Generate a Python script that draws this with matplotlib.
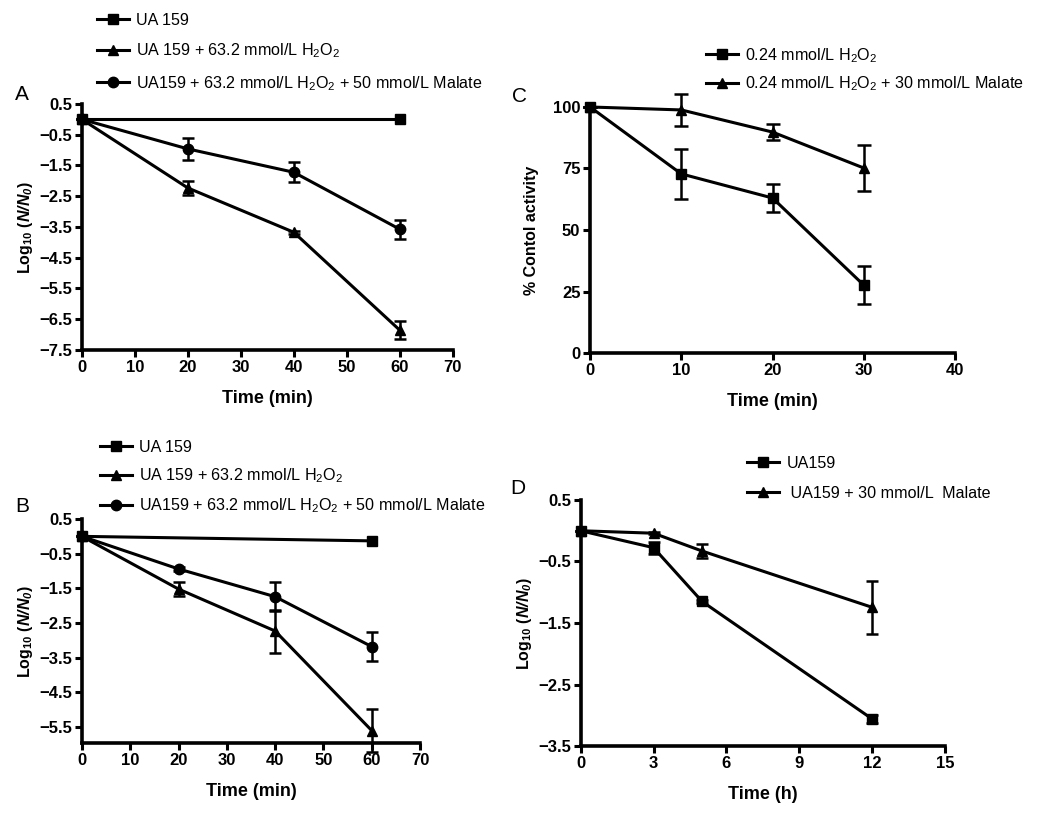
import matplotlib
matplotlib.use("Agg")
import matplotlib.pyplot as plt

plt.rcParams['font.family'] = ['Liberation Sans', 'DejaVu Sans']
plt.rcParams['mathtext.fontset'] = 'custom'
plt.rcParams['mathtext.rm'] = 'Liberation Sans'
plt.rcParams['mathtext.it'] = 'Liberation Sans:italic'
plt.rcParams['mathtext.bf'] = 'Liberation Sans:bold'
plt.rcParams['mathtext.bfit'] = 'Liberation Sans:italic:bold'

# panel A
a_time = [0, 20, 40, 60]
a_ua = [0, None, None, 0.0]
a_h2o2 = [0, -2.23, -3.67, -6.85]
a_h2o2_err = [0, 0.22, 0.05, 0.3]
a_mal = [0, -0.96, -1.72, -3.57]
a_mal_err = [0, 0.35, 0.32, 0.31]

# panel B
b_time = [0, 20, 40, 60]
b_ua = [0, None, None, -0.13]
b_h2o2 = [0, -1.52, -2.73, -5.6]
b_h2o2_err = [0, 0.2, 0.62, 0.63]
b_mal = [0, -0.94, -1.74, -3.18]
b_mal_err = [0, 0.05, 0.42, 0.42]

# panel C
c_time = [0, 10, 20, 30]
c_h2o2 = [100, 72.8, 63.0, 27.6]
c_h2o2_err = [0, 10.3, 5.5, 7.7]
c_mal = [100, 98.8, 89.8, 75.2]
c_mal_err = [0, 6.5, 3.1, 9.4]

# panel D
d_time = [0, 3, 5, 12]
d_ua = [0, -0.275, -1.15, -3.06]
d_ua_err = [0, 0.1, 0.03, 0.06]
d_mal = [0, -0.04, -0.33, -1.245]
d_mal_err = [0, 0.02, 0.12, 0.43]

h2o2 = r'$\mathregular{H_2O_2}$'
a_labels = ['UA 159', 'UA 159 + 63.2 mmol/L ' + h2o2,
            'UA159 + 63.2 mmol/L ' + h2o2 + ' + 50 mmol/L Malate']
c_labels = ['0.24 mmol/L ' + h2o2, '0.24 mmol/L ' + h2o2 + ' + 30 mmol/L Malate']
d_labels = ['UA159', ' UA159 + 30 mmol/L  Malate']

log_label = r'$\mathbf{Log_{10}}$ $\mathbf{(}\mathbfit{N/N_0}\mathbf{)}$'

fig = plt.figure(figsize=(10.5, 8.13), dpi=100)
axA = fig.add_axes([0.078, 0.5695, 0.353, 0.3026])
axC = fig.add_axes([0.562, 0.5658, 0.3475, 0.3026])
axB = fig.add_axes([0.078, 0.0861, 0.322, 0.2755])
axD = fig.add_axes([0.553, 0.0824, 0.347, 0.3026])

lw = 2.2
ms = 7.5


def style(ax):
    for s in ['top', 'right']:
        ax.spines[s].set_visible(False)
    for s in ['left', 'bottom']:
        ax.spines[s].set_linewidth(2.6)
    ax.tick_params(width=2.2, length=5, direction='out', pad=2)
    for t in ax.get_xticklabels() + ax.get_yticklabels():
        t.set_fontweight('bold')
        t.set_fontsize(12)


def series(ax, x, y, err, marker, label, cap=4):
    xs = [a for a, b in zip(x, y) if b is not None]
    ys = [b for b in y if b is not None]
    es = [e for e, b in zip(err, y) if b is not None] if err else None
    ax.errorbar(xs, ys, yerr=es, color='black', lw=lw, marker=marker, ms=ms,
                capsize=cap, elinewidth=1.8, capthick=1.8, label=label, clip_on=False, zorder=3)


# A
series(axA, a_time, a_ua, None, 's', a_labels[0])
series(axA, a_time, a_h2o2, a_h2o2_err, '^', a_labels[1])
series(axA, a_time, a_mal, a_mal_err, 'o', a_labels[2])
axA.set_xlim(0, 70)
axA.set_ylim(-7.5, 0.5)
axA.set_xticks(range(0, 71, 10))
axA.set_yticks([0.5, -0.5, -1.5, -2.5, -3.5, -4.5, -5.5, -6.5, -7.5])
axA.set_xlabel('Time (min)', fontsize=13, fontweight='bold', labelpad=11)
axA.set_ylabel(log_label, fontsize=11.5, labelpad=3)
style(axA)

# B
series(axB, b_time, b_ua, None, 's', a_labels[0])
series(axB, b_time, b_h2o2, b_h2o2_err, '^', a_labels[1])
series(axB, b_time, b_mal, b_mal_err, 'o', a_labels[2])
axB.set_xlim(0, 70)
axB.set_ylim(-5.96, 0.5)
axB.set_xticks(range(0, 71, 10))
axB.set_yticks([0.5, -0.5, -1.5, -2.5, -3.5, -4.5, -5.5])
axB.set_xlabel('Time (min)', fontsize=13, fontweight='bold', labelpad=11)
axB.set_ylabel(log_label, fontsize=11.5, labelpad=3)
style(axB)

# C
series(axC, c_time, c_h2o2, c_h2o2_err, 's', c_labels[0], cap=5)
series(axC, c_time, c_mal, c_mal_err, '^', c_labels[1], cap=5)
axC.set_xlim(0, 40)
axC.set_ylim(0, 100)
axC.set_xticks(range(0, 41, 10))
axC.set_yticks([0, 25, 50, 75, 100])
axC.set_xlabel('Time (min)', fontsize=13, fontweight='bold', labelpad=11)
axC.set_ylabel('% Contol activity', fontsize=11.5, fontweight='bold', labelpad=10)
style(axC)

# D
series(axD, d_time, d_ua, d_ua_err, 's', d_labels[0])
series(axD, d_time, d_mal, d_mal_err, '^', d_labels[1])
axD.set_xlim(0, 15)
axD.set_ylim(-3.5, 0.5)
axD.set_xticks(range(0, 16, 3))
axD.set_yticks([0.5, -0.5, -1.5, -2.5, -3.5])
axD.set_xlabel('Time (h)', fontsize=13, fontweight='bold', labelpad=11)
axD.set_ylabel(log_label, fontsize=11.5, labelpad=3)
style(axD)


def legend(ax, x, y, spacing):
    h, l = ax.get_legend_handles_labels()
    h = [hh[0] for hh in h]
    fig.legend(h, l, loc='upper left', bbox_to_anchor=(x, y), bbox_transform=fig.transFigure,
               frameon=False, fontsize=11.6, handlelength=2.0, handletextpad=0.45,
               labelspacing=spacing, borderpad=0, borderaxespad=0)


legend(axA, 97 / 1050, 1 - 13 / 813, 0.85)
legend(axC, 706 / 1050, 1 - 46 / 813, 0.6)
legend(axB, 100 / 1050, 1 - 440 / 813, 0.7)
legend(axD, 747 / 1050, 1 - 456 / 813, 0.9)

fig.text(15 / 1050, 1 - 95 / 813, 'A', fontsize=15, va='center')
fig.text(512 / 1050, 1 - 97 / 813, 'C', fontsize=15, va='center')
fig.text(15 / 1050, 1 - 506 / 813, 'B', fontsize=15, va='center')
fig.text(510 / 1050, 1 - 488 / 813, 'D', fontsize=15, va='center')

fig.savefig('out.png', dpi=100)
